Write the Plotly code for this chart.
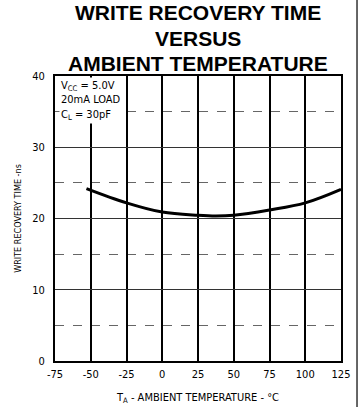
import plotly.graph_objects as go

# Data
temps = [-53, -25, 0, 25, 37.5, 50, 75, 100, 125]
write_recovery_ns = [24.2, 22.2, 20.9, 20.45, 20.35, 20.45, 21.2, 22.2, 24.1]

x_ticks = [-75, -50, -25, 0, 25, 50, 75, 100, 125]
y_ticks = [0, 10, 20, 30, 40]

title_lines = ["WRITE RECOVERY TIME", "VERSUS", "AMBIENT TEMPERATURE"]
cond_lines = ["V<sub>CC</sub> = 5.0V", "20mA LOAD", "C<sub>L</sub> = 30pF"]

narrow = "Liberation Sans Narrow, DejaVu Sans Condensed, Liberation Sans, Arial, sans-serif"

fig = go.Figure()
fig.add_trace(go.Scatter(
    x=temps, y=write_recovery_ns, mode="lines",
    line=dict(color="black", width=3, shape="spline", smoothing=1.0),
    hoverinfo="skip", showlegend=False,
))

fig.update_layout(
    width=360, height=407,
    margin=dict(l=55, r=19, t=76, b=46),
    paper_bgcolor="white", plot_bgcolor="white",
    font=dict(family=narrow, color="black", size=11),
    showlegend=False,
)

fig.update_xaxes(
    range=[-75, 125], tickvals=x_ticks, ticktext=[str(v) for v in x_ticks],
    showgrid=True, gridcolor="black", gridwidth=1.5,
    showline=True, linecolor="black", linewidth=2, mirror=True,
    ticks="", ticklabelstandoff=2, zeroline=False, automargin=False,
    tickfont=dict(family=narrow, size=11),
    title=dict(text="T<sub>A</sub> - AMBIENT TEMPERATURE - °C",
               font=dict(family=narrow, size=11), standoff=13),
)
fig.update_yaxes(
    range=[0, 40], tickvals=y_ticks, ticktext=[str(v) for v in y_ticks],
    showgrid=True, gridcolor="#333333", gridwidth=1,
    minor=dict(dtick=5, showgrid=True, gridcolor="#666666", griddash="dash", gridwidth=1),
    showline=True, linecolor="black", linewidth=2, mirror=True,
    ticks="", ticklabelstandoff=6, zeroline=False, automargin=False,
    tickfont=dict(family=narrow, size=11),
    title=dict(text="WRITE RECOVERY TIME -ns",
               font=dict(family=narrow, size=9), standoff=9),
)

# Title lines
title_y = [1.222, 1.132, 1.043]
for txt, yy in zip(title_lines, title_y):
    fig.add_annotation(
        text=f"<b>{txt}</b>", xref="paper", yref="paper", x=0.5, y=yy,
        xanchor="center", yanchor="middle", showarrow=False,
        font=dict(family="Liberation Sans, Arial, sans-serif", size=21, color="black"),
    )

# Conditions box
fig.add_annotation(
    text="<br>".join(cond_lines), xref="x", yref="y", x=-72, y=39.9,
    xanchor="left", yanchor="top", align="left", showarrow=False,
    bgcolor="white", borderpad=1,
    font=dict(family=narrow, size=11, color="black"),
)

# page border line at the right
fig.add_shape(type="line", xref="paper", yref="paper",
              x0=1.056, x1=1.056, y0=-0.2, y1=1.3,
              line=dict(color="#333333", width=1.5))

fig.write_html(
    "out.html",
    config={"displayModeBar": False},
    post_script="document.body.style.margin='0';document.body.style.overflow='hidden';",
)
